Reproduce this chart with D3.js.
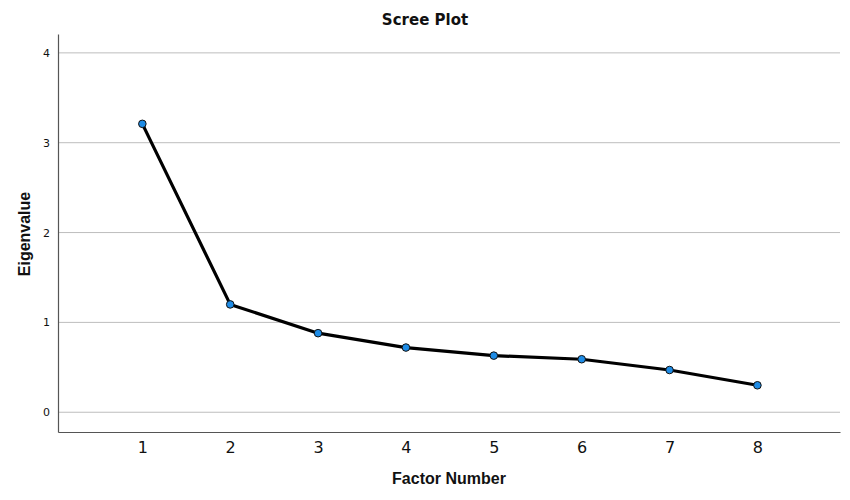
<!DOCTYPE html>
<html>
<head>
<meta charset="utf-8">
<script src="https://cdn.jsdelivr.net/npm/d3@7"></script>
<style>
  body { margin: 0; background: #fff; }
  text { font-family: "DejaVu Sans", sans-serif; }
  .lbl { font-family: "Liberation Sans", Arial, sans-serif; }
</style>
</head>
<body>
<svg width="850" height="500"></svg>
<script>
var factors = [1, 2, 3, 4, 5, 6, 7, 8];
var eigenvalues = [3.21, 1.20, 0.88, 0.72, 0.63, 0.59, 0.47, 0.30];
var yTicks = [0, 1, 2, 3, 4];

var svg = d3.select('svg');

var padding = {t: 34, r: 10, b: 68, l: 58};
var plotRight = 850 - padding.r;
var plotBottom = 500 - padding.b;

var xScale = d3.scaleLinear()
    .domain([0.04, 8.94])
    .range([padding.l, plotRight]);

var yScale = d3.scaleLinear()
    .domain([-0.22, 4.21])
    .range([plotBottom, padding.t]);

// gridlines
svg.append('g')
    .selectAll('line')
    .data(yTicks)
    .enter()
    .append('line')
    .attr('x1', padding.l)
    .attr('x2', plotRight)
    .attr('y1', function(d) { return yScale(d); })
    .attr('y2', function(d) { return yScale(d); })
    .attr('stroke', '#bdbdbd')
    .attr('stroke-width', 1);

// y axis
var yAxis = d3.axisLeft(yScale)
    .tickValues(yTicks)
    .tickSize(0)
    .tickPadding(8)
    .tickFormat(d3.format('d'));

var yG = svg.append('g')
    .attr('transform', 'translate(' + padding.l + ',0)')
    .call(yAxis);
yG.select('.domain').attr('stroke', '#555').attr('stroke-width', 1.2);
yG.selectAll('text').attr('font-size', 11).attr('fill', '#111');

// x axis
var xAxis = d3.axisBottom(xScale)
    .tickValues(factors)
    .tickSize(0)
    .tickPadding(10)
    .tickFormat(d3.format('d'));

var xG = svg.append('g')
    .attr('transform', 'translate(0,' + plotBottom + ')')
    .call(xAxis);
xG.select('.domain').attr('stroke', '#555').attr('stroke-width', 1.2);
xG.selectAll('text').attr('font-size', 16).attr('fill', '#111');

// line
var line = d3.line()
    .x(function(d, i) { return xScale(factors[i]); })
    .y(function(d) { return yScale(d); });

svg.append('path')
    .datum(eigenvalues)
    .attr('d', line)
    .attr('fill', 'none')
    .attr('stroke', '#000')
    .attr('stroke-width', 3.2)
    .attr('stroke-linejoin', 'round');

// points
svg.append('g')
    .selectAll('circle')
    .data(eigenvalues)
    .enter()
    .append('circle')
    .attr('cx', function(d, i) { return xScale(factors[i]); })
    .attr('cy', function(d) { return yScale(d); })
    .attr('r', 3.8)
    .attr('fill', '#1e8ce6')
    .attr('stroke', '#111')
    .attr('stroke-width', 1);

// labels
svg.append('text')
    .attr('x', 425)
    .attr('y', 25)
    .attr('text-anchor', 'middle')
    .attr('font-size', 15)
    .attr('font-weight', 'bold')
    .attr('fill', '#111')
    .text('Scree Plot');

svg.append('text')
    .attr('class', 'lbl')
    .attr('x', 449)
    .attr('y', 484)
    .attr('text-anchor', 'middle')
    .attr('font-size', 16)
    .attr('font-weight', 'bold')
    .attr('fill', '#111')
    .text('Factor Number');

svg.append('text')
    .attr('class', 'lbl')
    .attr('transform', 'translate(30,234) rotate(-90)')
    .attr('text-anchor', 'middle')
    .attr('font-size', 16)
    .attr('font-weight', 'bold')
    .attr('fill', '#111')
    .text('Eigenvalue');
</script>
</body>
</html>
